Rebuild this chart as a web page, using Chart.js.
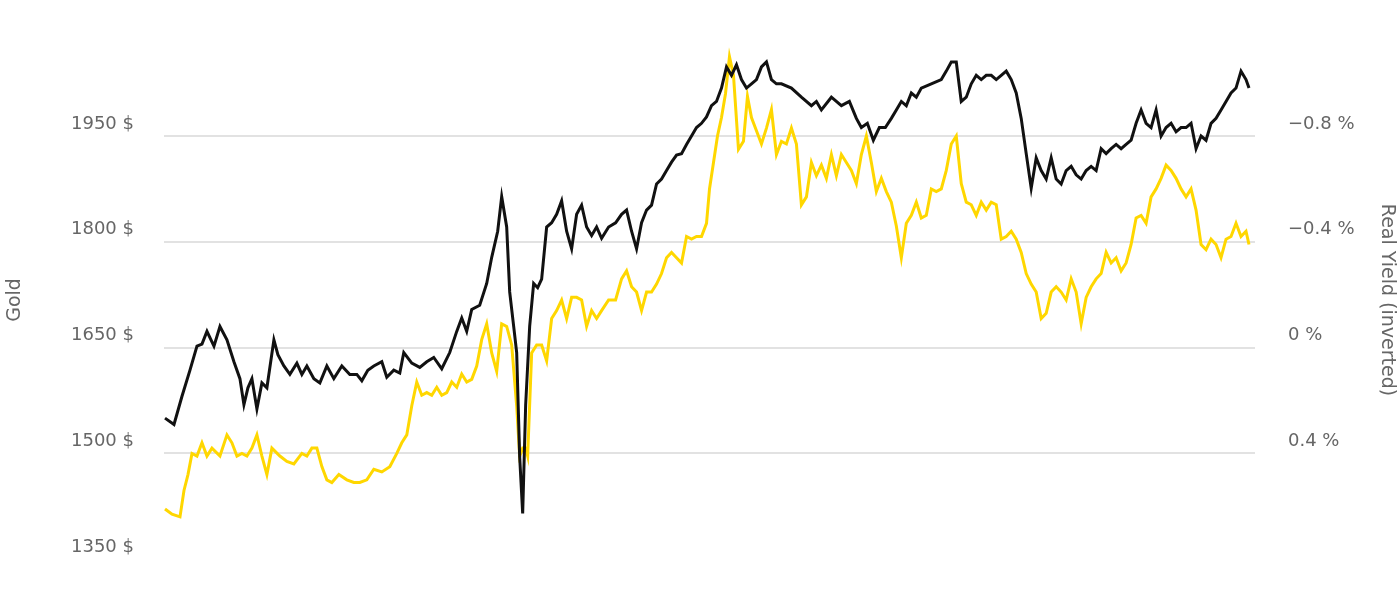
<!DOCTYPE html>
<html>
<head>
<meta charset="utf-8">
<script src="https://cdn.jsdelivr.net/npm/chart.js@4"></script>
<style>
  body { margin: 0; background: #fff; }
  #wrap { width: 1400px; height: 600px; }
</style>
</head>
<body>
<div id="wrap"><canvas id="goldChart" width="1400" height="600"></canvas></div>
<script>
// day index -> gold price (USD)
const gold = [[0,1550],[9,1541],[17,1581],[25,1618],[32,1652],[37,1655],[42,1673],[49,1652],[55,1680],[62,1661],[69,1630],[75,1606],[79,1569],[83,1593],[87,1606],[92,1563],[97,1600],[102,1593],[109,1661],[113,1640],[119,1624],[125,1612],[132,1628],[137,1612],[142,1624],[149,1606],[155,1600],[162,1624],[169,1606],[177,1624],[185,1612],[192,1612],[197,1603],[203,1618],[209,1624],[217,1630],[222,1608],[229,1618],[235,1614],[239,1643],[247,1628],[255,1622],[262,1630],[269,1636],[277,1620],[285,1643],[292,1673],[297,1692],[302,1673],[307,1704],[315,1710],[322,1741],[327,1778],[333,1815],[337,1864],[342,1821],[345,1729],[349,1680],[352,1643],[355,1495],[358,1415],[361,1569],[365,1680],[369,1741],[373,1735],[377,1747],[382,1821],[387,1827],[392,1839],[397,1858],[402,1815],[407,1790],[412,1839],[417,1852],[422,1821],[427,1809],[432,1821],[437,1805],[444,1821],[451,1827],[457,1839],[462,1845],[467,1815],[472,1790],[477,1827],[482,1845],[487,1852],[492,1882],[497,1889],[502,1901],[507,1913],[512,1923],[517,1925],[522,1938],[527,1950],[532,1962],[537,1968],[542,1977],[547,1993],[552,1999],[557,2018],[562,2048],[567,2036],[572,2051],[577,2030],[582,2018],[587,2024],[592,2030],[597,2048],[602,2055],[607,2030],[612,2024],[617,2024],[627,2018],[637,2005],[647,1993],[652,1999],[657,1987],[667,2005],[677,1993],[685,1999],[692,1975],[697,1962],[703,1968],[709,1944],[715,1962],[721,1962],[727,1975],[732,1987],[737,1999],[742,1993],[747,2011],[752,2005],[757,2018],[767,2024],[777,2030],[782,2042],[787,2055],[792,2055],[797,1999],[802,2005],[807,2024],[812,2036],[817,2030],[822,2036],[827,2036],[832,2030],[837,2036],[842,2042],[847,2030],[852,2011],[857,1975],[862,1925],[867,1876],[872,1919],[877,1901],[882,1889],[887,1919],[892,1889],[897,1882],[902,1901],[907,1907],[912,1895],[917,1889],[922,1901],[927,1907],[932,1901],[937,1932],[942,1925],[947,1932],[952,1938],[957,1932],[962,1938],[967,1944],[972,1968],[977,1987],[982,1968],[987,1962],[992,1987],[997,1950],[1002,1962],[1007,1968],[1012,1956],[1017,1962],[1022,1962],[1027,1968],[1032,1932],[1037,1950],[1042,1944],[1047,1968],[1052,1975],[1057,1987],[1062,1999],[1067,2011],[1072,2018],[1077,2042],[1082,2030],[1085,2018]];

// day index -> real yield (%)
const realYield = [[0,0.61],[7,0.63],[15,0.64],[19,0.54],[23,0.48],[27,0.40],[32,0.41],[37,0.36],[42,0.41],[47,0.38],[55,0.41],[62,0.33],[67,0.36],[72,0.41],[77,0.40],[82,0.41],[87,0.38],[92,0.33],[97,0.41],[102,0.48],[107,0.38],[115,0.41],[122,0.43],[129,0.44],[137,0.40],[142,0.41],[147,0.38],[152,0.38],[157,0.45],[162,0.50],[167,0.51],[174,0.48],[182,0.50],[189,0.51],[195,0.51],[202,0.50],[209,0.46],[217,0.47],[225,0.45],[232,0.40],[237,0.36],[242,0.33],[247,0.22],[252,0.13],[257,0.18],[262,0.17],[267,0.18],[272,0.15],[277,0.18],[282,0.17],[287,0.13],[292,0.15],[297,0.10],[302,0.13],[307,0.12],[312,0.07],[317,-0.03],[322,-0.09],[327,0.02],[332,0.09],[337,-0.09],[342,-0.08],[347,-0.01],[352,0.22],[355,0.41],[358,0.38],[361,0.38],[363,0.41],[367,0.02],[372,-0.01],[377,-0.01],[382,0.05],[387,-0.11],[392,-0.14],[397,-0.18],[402,-0.11],[407,-0.19],[412,-0.19],[417,-0.18],[422,-0.08],[427,-0.14],[432,-0.11],[437,-0.14],[444,-0.18],[451,-0.18],[457,-0.26],[462,-0.29],[467,-0.23],[472,-0.21],[477,-0.14],[482,-0.21],[487,-0.21],[492,-0.24],[497,-0.28],[502,-0.34],[507,-0.36],[512,-0.34],[517,-0.32],[522,-0.42],[527,-0.41],[532,-0.42],[537,-0.42],[542,-0.47],[545,-0.60],[549,-0.70],[553,-0.80],[557,-0.87],[561,-0.96],[565,-1.10],[569,-1.03],[574,-0.75],[579,-0.78],[583,-0.95],[587,-0.87],[592,-0.82],[597,-0.77],[602,-0.83],[607,-0.90],[612,-0.73],[617,-0.78],[622,-0.77],[627,-0.83],[632,-0.77],[637,-0.54],[642,-0.57],[647,-0.70],[652,-0.65],[657,-0.69],[662,-0.64],[667,-0.73],[672,-0.65],[677,-0.73],[682,-0.70],[687,-0.67],[692,-0.62],[697,-0.73],[702,-0.80],[707,-0.70],[712,-0.59],[717,-0.64],[722,-0.59],[727,-0.55],[732,-0.46],[737,-0.34],[742,-0.47],[747,-0.50],[752,-0.55],[757,-0.49],[762,-0.50],[767,-0.60],[772,-0.59],[777,-0.60],[782,-0.67],[787,-0.77],[792,-0.80],[797,-0.62],[802,-0.55],[807,-0.54],[812,-0.50],[817,-0.55],[822,-0.52],[827,-0.55],[832,-0.54],[837,-0.41],[842,-0.42],[847,-0.44],[852,-0.41],[857,-0.36],[862,-0.28],[867,-0.24],[872,-0.21],[877,-0.11],[882,-0.13],[887,-0.21],[892,-0.23],[897,-0.21],[902,-0.18],[907,-0.26],[912,-0.21],[917,-0.09],[922,-0.19],[927,-0.23],[932,-0.26],[937,-0.28],[942,-0.36],[947,-0.32],[952,-0.34],[957,-0.29],[962,-0.32],[967,-0.39],[972,-0.49],[977,-0.50],[982,-0.47],[987,-0.57],[992,-0.60],[997,-0.64],[1002,-0.69],[1007,-0.67],[1012,-0.64],[1017,-0.60],[1022,-0.57],[1027,-0.60],[1032,-0.52],[1037,-0.39],[1042,-0.37],[1047,-0.41],[1052,-0.39],[1057,-0.34],[1062,-0.41],[1067,-0.42],[1072,-0.47],[1077,-0.42],[1082,-0.44],[1085,-0.39]];

const goldTicks = [1350, 1500, 1650, 1800, 1950];
const yieldTicks = [-0.8, -0.4, 0, 0.4];

const toPts = arr => arr.map(p => ({ x: p[0], y: p[1] }));
const tickFont = { family: 'DejaVu Sans', size: 18 };
const grey = '#666';

new Chart(document.getElementById('goldChart').getContext('2d'), {
    type: 'line',
    data: {
        datasets: [
            {
                label: 'Gold',
                data: toPts(gold),
                yAxisID: 'yGold',
                borderColor: '#111',
                borderWidth: 3,
                pointRadius: 0,
                tension: 0,
                order: 0
            },
            {
                label: 'Real Yield (inverted)',
                data: toPts(realYield),
                yAxisID: 'yYield',
                borderColor: '#ffd700',
                borderWidth: 3,
                pointRadius: 0,
                tension: 0,
                order: 1
            }
        ]
    },
    options: {
        responsive: false,
        animation: false,
        layout: { padding: { top: -40, bottom: -41 } },
        plugins: { legend: { display: false }, tooltip: { enabled: false } },
        scales: {
            x: { type: 'linear', min: -1, max: 1091, display: false },
            yGold: {
                position: 'left',
                min: 1350,
                max: 2085,
                afterBuildTicks: s => { s.ticks = goldTicks.map(v => ({ value: v })); },
                afterFit: s => { s.width = 164; },
                border: { display: false },
                grid: {
                    color: ctx => ctx.tick && ctx.tick.value === 1350 ? 'rgba(0,0,0,0)' : '#e2e2e2',
                    lineWidth: 2,
                    drawTicks: false
                },
                ticks: {
                    color: grey,
                    font: tickFont,
                    padding: 30,
                    labelOffset: -12,
                    callback: v => v + ' $'
                },
                title: { display: true, text: 'Gold', color: grey, font: { family: 'DejaVu Sans', size: 19 }, padding: { bottom: 2 } }
            },
            yYield: {
                position: 'right',
                reverse: true,
                min: -1.16,
                max: 0.8,
                afterBuildTicks: s => { s.ticks = yieldTicks.map(v => ({ value: v })); },
                afterFit: s => { s.width = 145; },
                border: { display: false },
                grid: { display: false },
                ticks: {
                    color: grey,
                    font: tickFont,
                    padding: 25,
                    labelOffset: -12,
                    callback: v => (v < 0 ? '\u2212' + Math.abs(v) : String(v)) + ' %'
                },
                title: { display: true, text: 'Real Yield (inverted)', color: grey, font: { family: 'DejaVu Sans', size: 19 }, padding: { top: 2 } }
            }
        }
    }
});
</script>
</body>
</html>
